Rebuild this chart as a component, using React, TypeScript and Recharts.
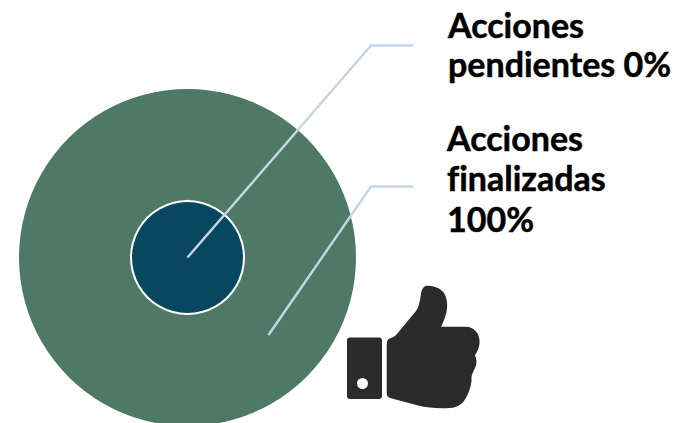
import { PieChart, Pie } from 'recharts'

const categories = ['Acciones pendientes', 'Acciones finalizadas']
const labels = ['0%', '100%']
// the reference draws both groups as nested full discs, whatever their percentage
const ringValues = [1, 1]
const colors = ['#074860', '#4E7966']

const pendingData = [{ name: categories[0], value: ringValues[0], label: labels[0] }]
const doneData = [{ name: categories[1], value: ringValues[1], label: labels[1] }]

const textStyle = {
  fontFamily: 'Lato, sans-serif',
  fontWeight: 700,
  fontSize: 34,
  fill: '#000000',
  stroke: '#000000',
  strokeWidth: 0.5,
  fontVariantLigatures: 'none',
}
const lineColor = '#C5D5E8'

// Pie labels sit above the sectors, so the leader lines and texts are drawn here
const pendingLabel = () => (
  <g>
    <polyline points="187.5,257.5 371,45.5 413,45.5" fill="none" stroke={lineColor} strokeWidth={2.4} />
    <text style={textStyle} x={448} y={38}>Acciones</text>
    <text style={textStyle} x={448} y={77}>{`pendientes ${labels[0]}`}</text>
  </g>
)

const doneLabel = () => (
  <g>
    <polyline points="268.5,335 371,186.5 413,186.5" fill="none" stroke={lineColor} strokeWidth={2.4} />
    <text style={textStyle} x={447} y={151}>Acciones</text>
    <text style={textStyle} x={447} y={191}>finalizadas</text>
    <text style={textStyle} x={447} y={232}>{labels[1]}</text>
  </g>
)

function ThumbIcon() {
  return (
    <g fill="#2B2B2B">
      <path
        fillRule="evenodd"
        d="M350 337.5H379Q382 337.5 382 340.5V396Q382 399 379 399H350Q347 399 347 396V340.5Q347 337.5 350 337.5ZM362.5 378A5.5 5.5 0 1 0 362.5 389A5.5 5.5 0 1 0 362.5 378Z"
      />
      <path d="M386.7 345C387 340 388 339 391 338C395 337 398 333 401 329L416 311C419 307 420 300 421 294C422 288 424 285.5 428 285.7C436 286 441 289 444 293C447 298 448 304 446.5 312C445 318 443 323 441 326.7H466C474 327 479 333 479.5 340C480 346 478 351 475 355C477 360 477 364 475 368C473 372 472 374 471.5 377C472 383 470 390 467 396C463 404 458 407.5 450 408C438 408.5 428 408 418 405.5L392 398.5C388 397.5 386.7 396 386.7 393Z" />
    </g>
  )
}

export default function App() {
  return (
    <div style={{ position: 'absolute', left: 0, top: 0, width: 681, height: 423, background: '#ffffff' }}>
      <PieChart width={681} height={423} margin={{ top: 0, right: 0, bottom: 0, left: 0 }}>
        <Pie
          data={doneData}
          dataKey="value"
          nameKey="name"
          cx={187.5}
          cy={257.5}
          innerRadius={57.5}
          outerRadius={168.5}
          startAngle={90}
          endAngle={-270}
          fill={colors[1]}
          stroke="none"
          label={doneLabel}
          labelLine={false}
          isAnimationActive={false}
        />
        <Pie
          data={pendingData}
          dataKey="value"
          nameKey="name"
          cx={187.5}
          cy={257.5}
          innerRadius={0}
          outerRadius={55.5}
          startAngle={90}
          endAngle={-270}
          fill={colors[0]}
          stroke="none"
          label={pendingLabel}
          labelLine={false}
          isAnimationActive={false}
        />
        <ThumbIcon />
      </PieChart>
    </div>
  )
}
